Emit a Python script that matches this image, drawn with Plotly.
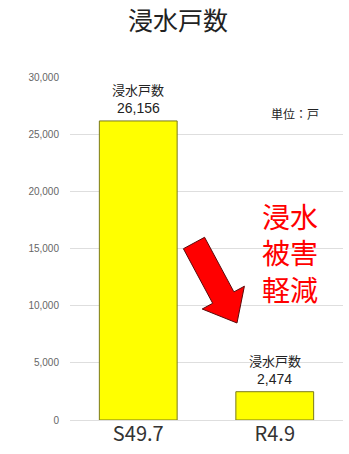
import plotly.graph_objects as go

# Flooded households by event
categories = ["S49.7", "R4.9"]
households = [26156, 2474]
label_prefix = "浸水戸数"
y_ticks = [0, 5000, 10000, 15000, 20000, 25000, 30000]

FONT = "Noto Sans CJK JP, Noto Sans, sans-serif"
LATIN = "Liberation Sans, Arial, sans-serif"

W, H = 349, 454
L, R, T, B = 70, 6, 77, 34


def px(x, y):
    """Convert a pixel position into paper coordinates."""
    return (x - L) / (W - L - R), (H - B - y) / (H - T - B)


fig = go.Figure(
    go.Bar(
        x=categories,
        y=households,
        width=0.57,
        marker=dict(color="#FFFF00", line=dict(color="#7a7a1a", width=1)),
        cliponaxis=False,
        hoverinfo="skip",
    )
)

# Value labels above each bar: caption line and number line
for cat, val in zip(categories, households):
    fig.add_annotation(
        x=cat, y=val, xref="x", yref="y", showarrow=False,
        xanchor="center", yanchor="middle", yshift=13,
        text=f"{val:,}", font=dict(family=LATIN, size=14, color="#222222"),
    )
    fig.add_annotation(
        x=cat, y=val, xref="x", yref="y", showarrow=False,
        xanchor="center", yanchor="middle", yshift=31,
        text=label_prefix, font=dict(family=FONT, size=13, color="#222222"),
    )

# Downward arrow between the two bars
arrow_px = [
    (183.4, 248.7), (204.6, 237.3), (233.9, 291.9), (244.4, 286.2),
    (237.0, 323.0), (202.2, 309.0), (212.7, 303.3),
]
pts = [px(x, y) for x, y in arrow_px]
path = "M " + " L ".join(f"{x:.4f},{y:.4f}" for x, y in pts) + " Z"
fig.add_shape(
    type="path", path=path, xref="paper", yref="paper",
    fillcolor="#FF0000", line=dict(color="#5a0a0a", width=1), layer="above",
)

ux, uy = px(295, 113)
fig.add_annotation(
    x=ux, y=uy, xref="paper", yref="paper", showarrow=False,
    xanchor="center", yanchor="middle",
    text="単位：戸", font=dict(family=FONT, size=12, color="#222222"),
)

rx, ry = px(290, 252)
fig.add_annotation(
    x=rx, y=ry, xref="paper", yref="paper", showarrow=False,
    xanchor="center", yanchor="middle",
    text="浸水<br>被害<br>軽減", align="center",
    font=dict(family=FONT, size=28, color="#FF0000"),
)

fig.update_layout(
    width=W, height=H,
    margin=dict(l=L, r=R, t=T, b=B),
    paper_bgcolor="white", plot_bgcolor="white",
    showlegend=False,
    title=dict(
        text="浸水戸数", x=0.51, xanchor="center", y=1 - 21 / H, yanchor="middle",
        font=dict(family=FONT, size=25, color="#222222"),
    ),
    xaxis=dict(
        showline=False, showgrid=False, ticks="",
        tickfont=dict(family=FONT, size=20, color="#333333"),
    ),
    yaxis=dict(
        range=[0, 30000], tickvals=y_ticks, tickformat=",d",
        showgrid=True, gridcolor="#dedede", gridwidth=1,
        zeroline=True, zerolinecolor="#dedede", zerolinewidth=1,
        showline=False, ticks="", ticklabelstandoff=10,
        tickfont=dict(family=LATIN, size=10, color="#666666"),
    ),
)

fig.write_html("out.html")
